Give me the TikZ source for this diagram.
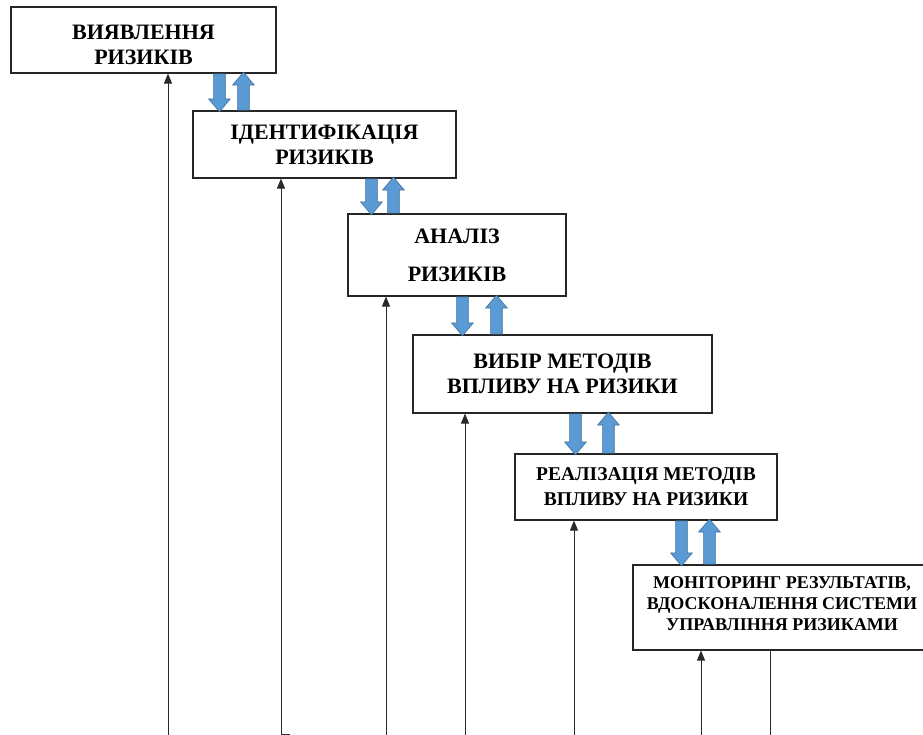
\documentclass[tikz,border=0pt]{standalone}
\usepackage{fontspec}
\setmainfont{Liberation Serif}
\usetikzlibrary{arrows.meta,shapes.arrows}
\definecolor{bfill}{HTML}{5B9BD5}
\definecolor{bline}{HTML}{41719C}
\definecolor{lgray}{HTML}{2A2A2A}
\begin{document}
\begin{tikzpicture}[x=1pt,y=-1pt,
  box/.style={draw=black!85, line width=1.1pt, fill=white, align=center, inner sep=0pt},
  fbig/.style={font=\bfseries\fontsize{22}{25}\selectfont},
  fwide/.style={font=\bfseries\fontsize{22}{38}\selectfont},
  fmid/.style={font=\bfseries\fontsize{19.5}{25}\selectfont},
  fsmall/.style={font=\bfseries\fontsize{18}{21}\selectfont},
  barrow/.style={single arrow, draw=bline, fill=bfill, line width=0.6pt,
    inner sep=0pt, inner ysep=5.5pt, single arrow head extend=5pt,
    single arrow tip angle=80, sloped, allow upside down,
    minimum height=#1, pos=0, anchor=tail},
  vline/.style={draw=lgray, line width=0.9pt},
  varrow/.style={vline, -{Triangle[width=8pt,length=10pt]}}]
\clip (0,0) rectangle (923,735);
\fill[white] (0,0) rectangle (923,735);

% boxes
\node[box, fbig, minimum width=265, minimum height=66] (b1) at (143.5,40) {\rule{0pt}{24pt}ВИЯВЛЕННЯ\\РИЗИКІВ};
\node[box, fbig, minimum width=263, minimum height=67] (b2) at (324.5,144.5) {ІДЕНТИФІКАЦІЯ\\РИЗИКІВ};
\node[box, fwide, minimum width=218, minimum height=82] (b3) at (457,255) {АНАЛІЗ\\РИЗИКІВ};
\node[box, fbig, minimum width=299, minimum height=78] (b4) at (562.5,374) {ВИБІР МЕТОДІВ\\ВПЛИВУ НА РИЗИКИ};
\node[box, fmid, minimum width=262, minimum height=66] (b5) at (646,487) {РЕАЛІЗАЦІЯ МЕТОДІВ\\ВПЛИВУ НА РИЗИКИ};
\node[box, fsmall, minimum width=298, minimum height=85] (b6) at (782,607.5) {МОНІТОРИНГ РЕЗУЛЬТАТІВ,\\ВДОСКОНАЛЕННЯ СИСТЕМИ\\УПРАВЛІННЯ РИЗИКАМИ\rule[-8pt]{0pt}{8pt}};

% blue block arrows
\path ([xshift=209]b1.south west) -- ([xshift=27]b2.north west) node[barrow=38] {};
\path ([xshift=51]b2.north west) -- ([xshift=233]b1.south west) node[barrow=38] {};
\path ([xshift=179]b2.south west) -- ([xshift=24]b3.north west) node[barrow=36] {};
\path ([xshift=46]b3.north west) -- ([xshift=201]b2.south west) node[barrow=36] {};
\path ([xshift=115]b3.south west) -- ([xshift=50]b4.north west) node[barrow=39] {};
\path ([xshift=84]b4.north west) -- ([xshift=149]b3.south west) node[barrow=39] {};
\path ([xshift=163]b4.south west) -- ([xshift=61]b5.north west) node[barrow=41] {};
\path ([xshift=94]b5.north west) -- ([xshift=196]b4.south west) node[barrow=41] {};
\path ([xshift=167]b5.south west) -- ([xshift=49]b6.north west) node[barrow=45] {};
\path ([xshift=77]b6.north west) -- ([xshift=195]b5.south west) node[barrow=45] {};

% vertical feedback lines
\coordinate (p1) at (168,736);
\coordinate (p2) at (281,734);
\coordinate (p2s) at (290,734);
\coordinate (p3) at (386,736);
\coordinate (p4) at (465,736);
\coordinate (p5) at (574,736);
\coordinate (p6) at (701,736);
\coordinate (p7) at (770,736);
\draw[varrow] (p1) -- (p1 |- b1.south);
\draw[varrow] (p2) -- (p2 |- b2.south);
\draw[vline] (p2s) -- (p2);
\draw[varrow] (p3) -- (p3 |- b3.south);
\draw[varrow] (p4) -- (p4 |- b4.south);
\draw[varrow] (p5) -- (p5 |- b5.south);
\draw[varrow] (p6) -- (p6 |- b6.south);
\draw[vline] (p7 |- b6.south) -- (p7);
\end{tikzpicture}
\end{document}
